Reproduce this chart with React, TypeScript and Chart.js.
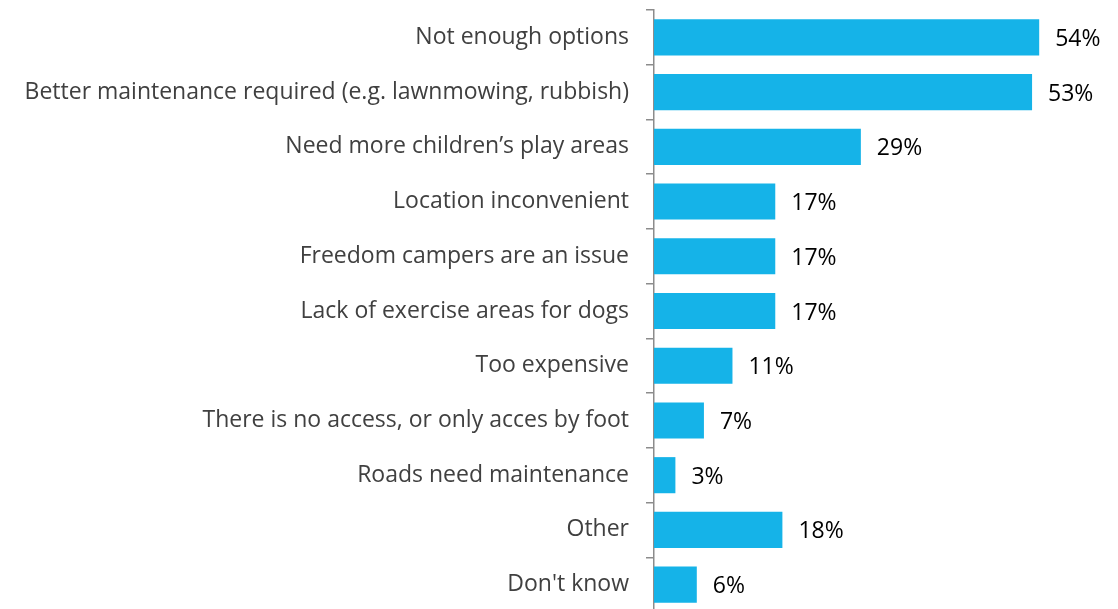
import React, { useEffect, useRef } from "react";
import { Chart, registerables } from "chart.js";

Chart.register(...registerables);

const categories = [
  "Not enough options",
  "Better maintenance required (e.g. lawnmowing, rubbish)",
  "Need more children’s play areas",
  "Location inconvenient",
  "Freedom campers are an issue",
  "Lack of exercise areas for dogs",
  "Too expensive",
  "There is no access, or only acces by foot",
  "Roads need maintenance",
  "Other",
  "Don't know",
];
const values = [54, 53, 29, 17, 17, 17, 11, 7, 3, 18, 6];

const FONT = "'Open Sans', sans-serif";

const valueLabels = {
  id: "valueLabels",
  afterDatasetsDraw(chart: any) {
    const ctx = chart.ctx;
    const meta = chart.getDatasetMeta(0);
    ctx.save();
    ctx.font = `23px ${FONT}`;
    ctx.fillStyle = "#000000";
    ctx.textAlign = "left";
    ctx.textBaseline = "middle";
    meta.data.forEach((bar: any, i: number) => {
      ctx.fillText(values[i] + "%", bar.x + 16, bar.y + 2);
    });
    ctx.restore();
  },
};

export default function App() {
  const ref = useRef<HTMLCanvasElement>(null);
  useEffect(() => {
    if (!ref.current) return;
    const chart = new Chart(ref.current, {
      type: "bar",
      data: {
        labels: categories,
        datasets: [
          {
            data: values,
            backgroundColor: "#15B3E8",
            barPercentage: 0.66,
            categoryPercentage: 1,
          },
        ],
      },
      options: {
        indexAxis: "y",
        animation: false,
        responsive: false,
        maintainAspectRatio: false,
        layout: { padding: { top: 10, right: 36, bottom: 0, left: 0 } },
        plugins: { legend: { display: false }, tooltip: { enabled: false } },
        scales: {
          x: {
            min: 0,
            max: 60,
            display: false,
          },
          y: {
            afterFit: (scale: any) => {
              scale.width = 654;
              scale.paddingTop = 0;
              scale.paddingBottom = 0;
            },
            grid: {
              offset: true,
              drawOnChartArea: false,
              drawTicks: true,
              tickLength: 8,
              color: "#8C8C8C",
              lineWidth: 1.5,
            },
            border: { display: true, color: "#8C8C8C", width: 1.5 },
            ticks: {
              padding: 17,
              color: "#404040",
              font: { family: FONT, size: 23 },
            },
          },
        },
      },
      plugins: [valueLabels],
    });
    return () => chart.destroy();
  }, []);
  return (
    <div style={{ position: "fixed", left: 0, top: 0, width: 1118, height: 609, overflow: "hidden", background: "#fff" }}>
      <canvas ref={ref} width={1118} height={612} style={{ display: "block" }} />
    </div>
  );
}
